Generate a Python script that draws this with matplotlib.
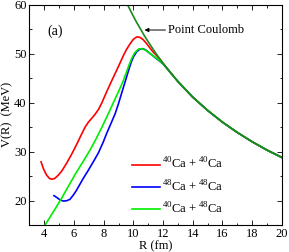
import matplotlib
matplotlib.use("Agg")
import matplotlib.pyplot as plt
from matplotlib.ticker import MultipleLocator

plt.rcParams["font.family"] = ["Liberation Serif", "DejaVu Serif"]
plt.rcParams["mathtext.fontset"] = "custom"
plt.rcParams["mathtext.rm"] = "Liberation Serif"

# 40Ca + 40Ca
R_4040 = [3.78, 3.95, 4.15, 4.35, 4.5, 4.7, 4.95, 5.17, 5.5, 5.85, 6.07, 6.25, 6.52,
          6.75, 6.97, 7.2, 7.42, 7.65, 7.87, 8.2, 8.58, 9.0, 9.33, 9.55, 9.78, 10.0,
          10.23, 10.45, 10.67, 10.9, 11.1, 11.3, 11.5, 11.75, 12.0,
          13, 14, 15, 16, 17, 18, 19, 20]
V_4040 = [27.9, 26.4, 25.2, 24.5, 24.35, 24.5, 25.2, 26.0, 27.6, 29.5, 30.8, 31.9,
          33.6, 35.0, 36.0, 36.8, 37.6, 38.6, 39.9, 42.2, 44.7, 47.4, 49.6, 50.9,
          52.0, 52.9, 53.4, 53.3, 52.8, 52.0, 51.2, 50.4, 49.8, 49.0, 48.0,
          44.3, 41.1, 38.4, 36.0, 33.9, 32.0, 30.3, 28.8]

# 48Ca + 48Ca
R_4848 = [4.65, 4.85, 5.05, 5.28, 5.5, 5.73, 5.95, 6.15, 6.3, 6.6, 6.97, 7.3, 7.64,
          7.98, 8.2, 8.43, 8.77, 9.0, 9.21, 9.4, 9.55, 9.7, 9.85, 10.0, 10.23,
          10.45, 10.65, 10.85, 11.0, 11.3, 11.58, 12.0,
          13, 14, 15, 16, 17, 18, 19, 20]
V_4848 = [21.0, 20.6, 20.15, 19.9, 19.95, 20.25, 21.1, 22.0, 22.8, 24.4, 26.2, 27.9,
          29.7, 32.0, 33.7, 35.3, 37.7, 39.8, 41.9, 43.8, 45.3, 46.8, 48.2, 49.3,
          50.4, 50.9, 51.0, 50.7, 50.3, 49.6, 48.9, 47.9,
          44.3, 41.1, 38.4, 36.0, 33.9, 32.0, 30.3, 28.8]

# 40Ca + 48Ca
R_4048 = [4.05, 4.67, 5.17, 5.6, 6.07, 6.6, 7.08, 7.42, 7.87, 8.31, 8.7, 9.1, 9.3,
          9.5, 9.7, 9.9, 10.1, 10.34, 10.55, 10.75, 11.0, 11.3, 11.58, 12.0,
          13, 14, 15, 16, 17, 18, 19, 20]
V_4048 = [15.0, 18.0, 20.5, 22.8, 25.3, 27.9, 30.3, 32.2, 34.9, 37.7, 40.3, 42.9,
          44.3, 45.9, 47.6, 49.1, 50.2, 50.9, 51.0, 50.8, 50.3, 49.6, 49.0, 47.9,
          44.3, 41.1, 38.4, 36.0, 33.9, 32.0, 30.3, 28.8]

# point Coulomb
R_pc = [9.55, 9.8, 10.0, 10.25, 10.5, 10.75, 11.0, 11.5, 12, 12.5, 13, 14, 15, 16,
        17, 18, 19, 20]
V_pc = [60.3, 58.8, 57.6, 56.2, 54.9, 53.6, 52.4, 50.1, 48.0, 46.1, 44.3, 41.1,
        38.4, 36.0, 33.9, 32.0, 30.3, 28.8]

fig = plt.figure(figsize=(2.89, 2.52), dpi=100)
ax = fig.add_axes([0.102, 0.107, 0.873, 0.875])

ax.plot(R_4040, V_4040, color="#ff0000", lw=1.2, label=r"$^{40}$Ca + $^{40}$Ca")
ax.plot(R_4848, V_4848, color="#0000ff", lw=1.2, label=r"$^{48}$Ca + $^{48}$Ca")
ax.plot(R_4048, V_4048, color="#00ee00", lw=1.2, label=r"$^{40}$Ca + $^{48}$Ca")
ax.plot(R_pc, V_pc, color="#1a8a1a", lw=1.2)

ax.set_xlim(3, 20)
ax.set_ylim(15, 60)
ax.xaxis.set_major_locator(MultipleLocator(2))
ax.xaxis.set_minor_locator(MultipleLocator(1))
ax.yaxis.set_major_locator(MultipleLocator(10))
ax.yaxis.set_minor_locator(MultipleLocator(5))
ax.tick_params(which="both", direction="in", top=True, right=True, labelsize=9, width=0.6)
ax.tick_params(which="major", length=3.5, pad=2)
ax.tick_params(which="minor", length=1.8)
for s in ax.spines.values():
    s.set_linewidth(0.8)

ax.set_xlabel("R (fm)", fontsize=9, labelpad=0)
ax.set_ylabel("V(R)  (MeV)", fontsize=9, labelpad=1)

ax.text(4.72, 54.5, "(a)", fontsize=10, ha="center", va="center")
ax.annotate("Point Coulomb", xy=(10.75, 54.8), xytext=(12.35, 54.8),
            fontsize=9, va="center", ha="left",
            arrowprops=dict(arrowstyle="-|>", color="black", lw=0.7,
                            mutation_scale=6, shrinkA=0, shrinkB=0))

ax.legend(loc="upper left", bbox_to_anchor=(0.405, 0.31), frameon=False,
          fontsize=9, handlelength=2.3, handletextpad=0.15, labelspacing=0.55,
          borderpad=0, borderaxespad=0)

fig.savefig("out.png", dpi=100)
